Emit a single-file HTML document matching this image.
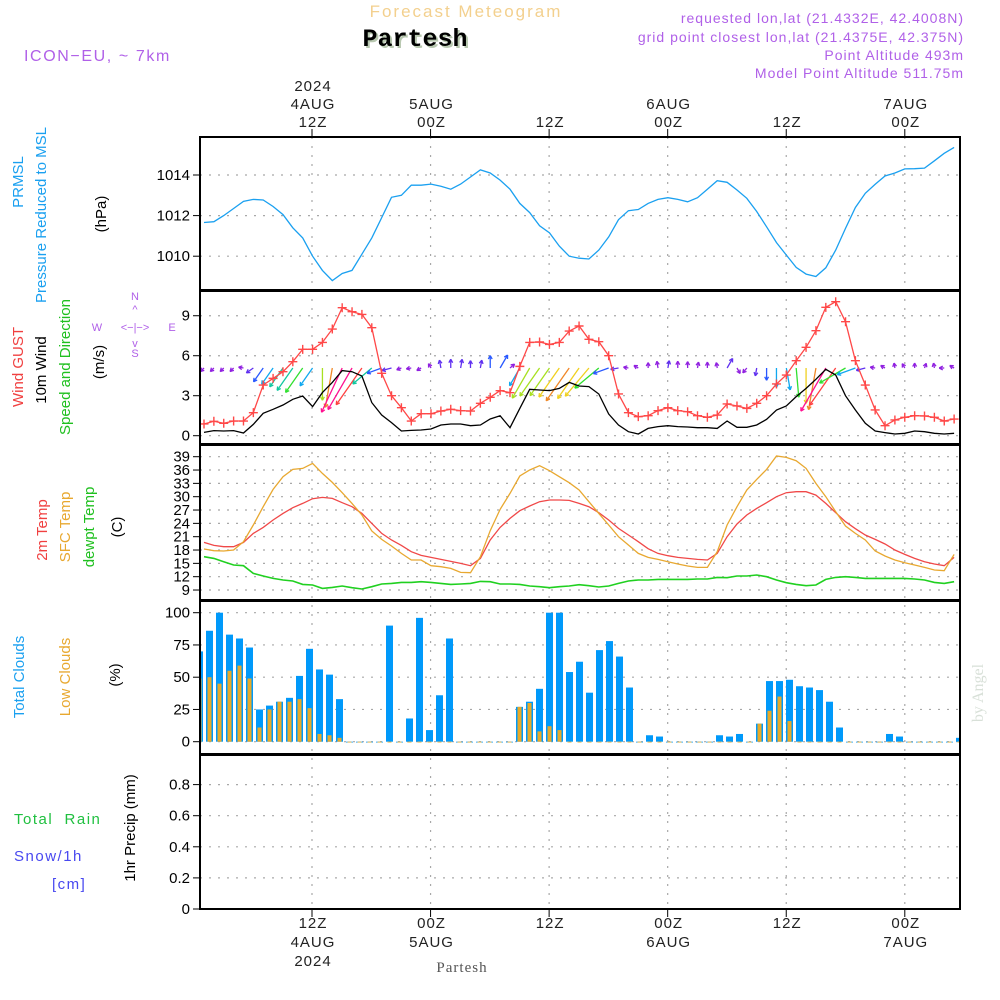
<!DOCTYPE html>
<html><head><meta charset="utf-8">
<style>
html,body{margin:0;padding:0;background:#fff;}
svg{display:block;font-family:"Liberation Sans",sans-serif;}
</style></head>
<body>
<svg id="chart" width="1000" height="1000" viewBox="0 0 1000 1000" xmlns="http://www.w3.org/2000/svg">
<rect width="1000" height="1000" fill="#fff"/>
<text x="466" y="17" text-anchor="middle" font-size="17" letter-spacing="2" fill="#f3d08e">Forecast Meteogram</text>
<text x="417" y="48" text-anchor="middle" font-family="Liberation Mono,monospace" font-weight="bold" font-size="25" fill="#b8c8b0">Partesh</text>
<text x="415" y="46" text-anchor="middle" font-family="Liberation Mono,monospace" font-weight="bold" font-size="25" fill="#000">Partesh</text>
<text x="24" y="61" font-size="16" letter-spacing="1.6" fill="#b060e8">ICON−EU, ~ 7km</text>
<g font-size="14" letter-spacing="1" fill="#b060e8" text-anchor="end">
<text x="964" y="23">requested lon,lat (21.4332E, 42.4008N)</text>
<text x="964" y="42">grid point closest lon,lat (21.4375E, 42.375N)</text>
<text x="964" y="60">Point Altitude 493m</text>
<text x="964" y="78">Model Point Altitude 511.75m</text>
</g>
<g font-size="15">
<text transform="translate(23,182) rotate(-90)" text-anchor="middle" fill="#1aa0f0">PRMSL</text>
<text transform="translate(46,215) rotate(-90)" text-anchor="middle" fill="#1aa0f0">Pressure Reduced to MSL</text>
<text transform="translate(106,214) rotate(-90)" text-anchor="middle" fill="#000">(hPa)</text>
<text transform="translate(23,367) rotate(-90)" text-anchor="middle" fill="#f04040">Wind GUST</text>
<text transform="translate(46,370) rotate(-90)" text-anchor="middle" fill="#000">10m Wind</text>
<text transform="translate(70,367) rotate(-90)" text-anchor="middle" fill="#20c020">Speed and Direction</text>
<text transform="translate(104,362) rotate(-90)" text-anchor="middle" fill="#000">(m/s)</text>
<text transform="translate(47,530) rotate(-90)" text-anchor="middle" fill="#f04040">2m Temp</text>
<text transform="translate(70,527) rotate(-90)" text-anchor="middle" fill="#e8a830">SFC Temp</text>
<text transform="translate(94,527) rotate(-90)" text-anchor="middle" fill="#20c020">dewpt Temp</text>
<text transform="translate(122,527) rotate(-90)" text-anchor="middle" fill="#000">(C)</text>
<text transform="translate(24,677) rotate(-90)" text-anchor="middle" fill="#1aa0f0">Total Clouds</text>
<text transform="translate(70,677) rotate(-90)" text-anchor="middle" fill="#e8a830">Low Clouds</text>
<text transform="translate(120,675) rotate(-90)" text-anchor="middle" fill="#000">(%)</text>
<text transform="translate(135,828) rotate(-90)" text-anchor="middle" fill="#000">1hr Precip (mm)</text>
</g>
<text x="14" y="824" font-size="15" letter-spacing="1.5" fill="#20c040" xml:space="preserve">Total  Rain</text>
<text x="14" y="861" font-size="15" letter-spacing="1.5" fill="#4848f0">Snow/1h</text>
<text x="52" y="889" font-size="15" letter-spacing="1.5" fill="#4848f0">[cm]</text>
<g fill="#b060e8" font-size="11" text-anchor="middle">
<text x="135" y="300">N</text>
<text x="135" y="357">S</text>
<text x="97" y="331">W</text>
<text x="172" y="331">E</text>
<text x="135" y="331" font-size="11">&lt;−|−&gt;</text>
<text x="135" y="313">^</text>
<text x="135" y="347">v</text>
</g>
<text transform="translate(983,693) rotate(-90)" text-anchor="middle" font-family="Liberation Serif,serif" font-size="16" fill="#d8e0d8">by Angel</text>
<text x="462" y="972" text-anchor="middle" font-family="Liberation Serif,serif" font-size="15" letter-spacing="1" fill="#555">Partesh</text>
<g id="dyn"></g>
</svg>
<script>
const pressure=[1011.66,1011.7,1012.0,1012.35,1012.7,1012.8,1012.77,1012.45,1012.05,1011.4,1010.9,1010.0,1009.3,1008.8,1009.15,1009.3,1010.1,1010.9,1011.9,1012.9,1013.0,1013.5,1013.5,1013.55,1013.45,1013.3,1013.55,1013.9,1014.25,1014.1,1013.75,1013.3,1012.6,1012.15,1011.5,1011.15,1010.5,1010.0,1009.9,1009.86,1010.3,1010.95,1011.8,1012.24,1012.3,1012.6,1012.8,1012.88,1012.8,1012.68,1012.88,1013.3,1013.72,1013.64,1013.26,1012.85,1012.2,1011.45,1010.67,1010.06,1009.45,1009.12,1009.0,1009.43,1010.3,1011.37,1012.4,1013.1,1013.54,1013.95,1014.1,1014.3,1014.31,1014.34,1014.7,1015.07,1015.36];
const windGust=[0.88,1.08,0.93,1.1,1.1,1.73,3.8,4.3,4.8,5.55,6.48,6.48,7.0,8.0,9.6,9.3,9.1,8.1,4.68,3.0,2.1,1.1,1.65,1.65,1.85,1.98,1.88,1.85,2.43,2.88,3.38,3.23,5.2,7.0,7.03,6.85,7.0,7.85,8.23,7.23,7.05,6.0,3.13,1.73,1.43,1.5,1.88,2.1,1.88,1.8,1.5,1.38,1.55,2.38,2.23,2.05,2.43,3.0,3.88,4.55,5.63,6.63,7.88,9.63,10.05,8.55,5.63,3.8,1.93,0.75,1.18,1.38,1.5,1.48,1.38,1.1,1.25];
const windSpeed=[0.25,0.38,0.35,0.38,0.2,0.85,1.68,1.98,2.3,2.73,2.98,2.18,3.23,4.0,4.88,4.8,4.48,2.48,1.55,0.98,0.35,0.4,0.43,0.5,0.8,0.88,0.88,0.75,0.8,1.25,1.5,0.6,2.05,3.48,3.43,3.38,3.55,4.0,3.73,3.68,3.13,1.63,0.8,0.3,0.13,0.55,0.68,0.75,0.68,0.65,0.6,0.6,0.55,1.1,0.63,0.63,0.8,1.23,1.93,2.23,2.93,3.55,4.23,4.98,4.55,3.0,1.93,0.93,0.35,0.23,0.13,0.18,0.35,0.3,0.18,0.13,0.18];
const windDir=[225,225,225,225,280,235,215,215,215,215,215,215,180,190,205,210,215,230,250,255,250,260,240,330,350,0,10,0,10,0,30,50,210,210,215,215,215,215,215,220,230,250,260,280,300,0,350,10,0,0,10,0,350,30,150,220,190,180,180,170,175,180,190,210,215,240,250,255,280,300,350,330,0,20,350,270,300];
const temp2m=[19.72,19.05,18.75,18.75,19.72,21.75,23.1,24.75,26.25,27.52,28.5,29.55,29.85,29.62,28.65,27.75,26.25,24.0,21.75,20.25,19.05,17.62,16.8,16.35,15.9,15.45,15.0,14.47,16.12,20.25,23.1,25.12,26.85,27.9,28.87,29.25,29.25,29.17,28.5,27.75,26.4,24.75,22.87,21.37,19.87,18.3,17.25,16.72,16.35,16.12,15.9,15.75,17.25,21.0,23.85,25.87,27.37,28.65,30.0,30.9,31.12,31.12,30.37,28.5,26.4,24.37,22.8,21.37,20.4,19.35,18.0,17.02,16.12,15.37,14.85,14.47,16.35];
const sfcTemp=[18.22,17.85,17.77,18.0,19.87,23.62,27.75,31.65,34.5,36.15,36.37,37.5,35.25,33.22,30.9,28.5,25.87,22.27,20.4,18.9,17.25,15.75,15.75,14.47,14.25,13.87,12.97,12.9,16.5,22.35,27.15,30.75,34.65,36.0,36.97,35.85,34.5,33.15,31.5,28.87,26.25,23.62,21.0,19.12,17.25,16.35,15.9,15.37,14.85,14.4,14.1,14.1,17.62,23.62,27.75,31.5,33.9,36.15,39.15,38.85,38.1,36.37,33.0,30.0,26.62,23.4,21.75,20.25,17.77,16.65,15.75,15.15,14.62,14.1,13.5,13.35,17.02];
const dewpt=[16.5,16.12,15.37,14.62,14.47,12.75,12.15,11.62,11.25,11.02,10.27,10.12,9.37,9.6,9.9,9.52,9.22,9.75,10.35,10.5,10.72,10.72,10.87,10.72,10.5,10.27,10.35,10.5,10.95,10.87,10.35,10.35,10.27,9.9,9.75,9.52,9.75,9.9,10.2,9.97,9.67,9.9,10.5,11.02,11.25,11.25,11.4,11.4,11.4,11.4,11.47,11.47,11.85,11.77,12.15,12.15,12.37,12.0,11.25,10.65,10.27,9.97,10.12,11.4,11.85,12.0,11.85,11.62,11.62,11.62,11.62,11.62,11.47,11.25,10.72,10.5,10.87];
const totalClouds=[70,86,100,83,80,73,25,28,31,34,51,72,56,52,33,0,0,0,0,90,0,18,96,9,36,80,0,0,0,0,0,0,27,31,41,100,100,54,62,38,71,78,66,42,0,5,4,0,0,0,0,0,5,4,6,0,14,47,47,48,43,42,40,31,11,0,0,0,0,6,4,0,0,0,0,0,3];
const lowClouds=[49,50,45,55,59,49,11,25,31,31,33,26,6,5,3,0,0,0,0,0,0,0,0,0,0,0,0,0,0,0,0,0,27,30,8,12,9,0,0,0,0,0,0,0,0,0,0,0,0,0,0,0,0,0,0,0,14,24,35,16,0,0,0,0,0,0,0,0,0,0,0,0,0,0,0,0,0];
const precip=new Array(77).fill(0);
const timeTickHours=[12,24,36,48,60,72];
const timeTickTop=[["2024","4AUG","12Z"],["","5AUG","00Z"],["","","12Z"],["","6AUG","00Z"],["","","12Z"],["","7AUG","00Z"]];
const timeTickBottom=[["12Z","4AUG","2024"],["00Z","5AUG",""],["12Z","",""],["00Z","6AUG",""],["12Z","",""],["00Z","7AUG",""]];
const pTicks=[1010,1012,1014];
const wTicks=[0,3,6,9];
const tTicks=[9,12,15,18,21,24,27,30,33,36,39];
const cTicks=[0,25,50,75,100];
const rTicks=["0","0.2","0.4","0.6","0.8"];

const X0=200,X1=960;
const xl=i=>204+9.87*i;
const xb=i=>199.5+10*i;
const xt=h=>312+(h-12)*9.88;
const yP=v=>175-(v-1014)*20.3;
const yW=v=>435.7-v*13.33;
const yT=v=>456.7+(39-v)*4.444;
const yC=v=>741.7-v*1.29;
const yR=v=>909-v*155.5;

const NS="http://www.w3.org/2000/svg";
const dyn=document.getElementById('dyn');
function mk(tag,attrs,parent){const e=document.createElementNS(NS,tag);for(const k in attrs)e.setAttribute(k,attrs[k]);(parent||dyn).appendChild(e);return e;}

const defs=mk('defs',{});
const cp=mk('clipPath',{id:'pc'},defs);mk('rect',{x:X0,y:137,width:X1-X0,height:772},cp);

const grid=mk('g',{stroke:'#a8a8a8','stroke-width':1.2,'stroke-dasharray':'2 7',fill:'none'});


timeTickHours.forEach(h=>{mk('line',{x1:xt(h),x2:xt(h),y1:137,y2:909},grid);});
function hgrid(ticks,sc){ticks.forEach(t=>{const y=sc(+t);mk('line',{x1:X0,x2:X1,y1:y,y2:y},grid);});}
hgrid(pTicks,yP);hgrid(wTicks,yW);hgrid(tTicks,yT);hgrid(cTicks,yC);hgrid(rTicks,yR);

function yAxis(ticks,sc,name){
  const g=mk('g',{'font-size':15,'text-anchor':'end',fill:'#000'});
  
  
  ticks.forEach(t=>{const y=sc(+t);mk('line',{x1:193,x2:200,y1:y,y2:y,stroke:'#000','stroke-width':1},g);const tx=mk('text',{x:190,y:y+5},g);tx.textContent=t;});
}
yAxis(pTicks,yP,'pressure-y-axis');yAxis(wTicks,yW,'wind-y-axis');yAxis(tTicks,yT,'temp-y-axis');yAxis(cTicks,yC,'cloud-y-axis');yAxis(rTicks,yR,'precip-y-axis');

const ta=mk('g',{'font-size':15,'text-anchor':'middle',fill:'#222','letter-spacing':'1'});


timeTickHours.forEach((h,k)=>{
  const x=xt(h);
  mk('line',{x1:x,x2:x,y1:129,y2:137,stroke:'#000'},ta);
  mk('line',{x1:x,x2:x,y1:909,y2:917,stroke:'#000'},ta);
  timeTickTop[k].forEach((s,j)=>{if(s){const t=mk('text',{x:x+1,y:91+j*18},ta);t.textContent=s;}});
  timeTickBottom[k].forEach((s,j)=>{if(s){const t=mk('text',{x:x+1,y:928+j*19},ta);t.textContent=s;}});
});

function line(data,xs,ys,color,name,w){
  const p=mk('polyline',{points:data.map((v,i)=>xs(i).toFixed(1)+','+ys(v).toFixed(1)).join(' '),fill:'none',stroke:color,'stroke-width':w||1.3,'clip-path':'url(#pc)'});
  
  
  return p;
}
line(pressure,xl,yP,'#1aa0f0','pressure-line');

const cb=mk('g',{'clip-path':'url(#pc)'});


totalClouds.forEach((v,i)=>{const y=yC(v);const r=mk('rect',{x:xb(i)-3.5,y:y,width:7,height:Math.max(yC(0)-y,0.8),fill:'#0099fa'},cb);

});
lowClouds.forEach((v,i)=>{const y=yC(v);const r=mk('rect',{x:xb(i)-2,y:y,width:4,height:Math.max(yC(0)-y,0.8),fill:'#e8aa28'},cb);

});

line(temp2m,xl,yT,'#f04848','temp-2m-line');
line(sfcTemp,xl,yT,'#e8a830','sfc-temp-line');
line(dewpt,xl,yT,'#20d020','dewpoint-line',1.6);

function spColor(s){
  if(s<0.7)return '#9020e0';if(s<1.2)return '#6030f0';if(s<1.8)return '#2858ff';if(s<2.3)return '#10a8f0';
  if(s<2.8)return '#10c8a0';if(s<3.2)return '#30e030';if(s<3.5)return '#a8e020';if(s<3.9)return '#f0d020';
  if(s<4.3)return '#f08828';if(s<4.7)return '#ff4040';return '#ff1090';
}
const wa=mk('g',{'stroke-width':1.3,fill:'none','clip-path':'url(#pc)'});


windDir.forEach((d,i)=>{
  const s=windSpeed[i];const L=Math.max(5,s*10);const a=d*Math.PI/180;
  const x0=xl(i),y0=368;const x1=x0+L*Math.sin(a),y1=y0-L*Math.cos(a);
  const c=spColor(s);
  const g=mk('g',{stroke:c},wa);
  
  
  mk('line',{x1:x0,y1:y0,x2:x1,y2:y1},g);
  const h=4;[a+Math.PI-0.5,a+Math.PI+0.5].forEach(b=>{mk('line',{x1:x1,y1:y1,x2:x1+h*Math.sin(b),y2:y1-h*Math.cos(b)},g);});
});
line(windSpeed,xl,yW,'#000','wind-speed-line');
line(windGust,xl,yW,'#ff4848','wind-gust-line');
const gm=mk('g',{stroke:'#ff4848','stroke-width':1.4});


windGust.forEach((v,i)=>{const x=xl(i),y=yW(v);mk('path',{d:`M${x-4.5},${y}H${x+4.5}M${x},${y-4.5}V${y+4.5}`},gm);});

line(precip,xb,yR,'#000','precip-line',1.5).setAttribute('stroke-dasharray','4 2');

const fr=mk('g',{fill:'none',stroke:'#000'});


mk('rect',{x:X0,y:137,width:X1-X0,height:772,'stroke-width':2},fr);
[290.5,444.5,600.5,754.5].forEach(y=>mk('line',{x1:X0,x2:X1,y1:y,y2:y,'stroke-width':3},fr));
</script>
</body></html>
